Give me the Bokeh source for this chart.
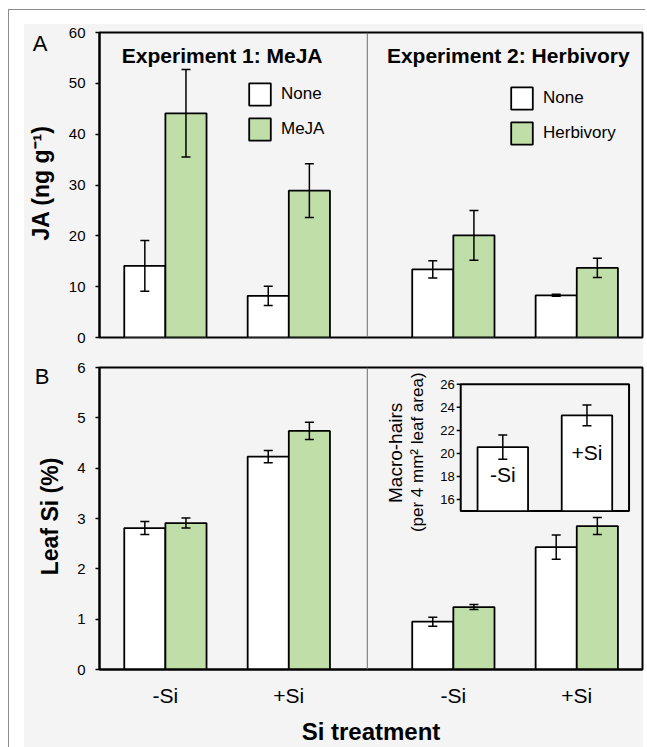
import math
from bokeh.plotting import figure
from bokeh.models import (Range1d, FixedTicker, Whisker, TeeHead, ColumnDataSource,
                          Legend, LegendItem, Span)
from bokeh.layouts import column, row
from bokeh.embed import file_html
from bokeh.resources import INLINE
from bokeh.core.properties import value

# ---------------- data ----------------
experiments = ["Experiment 1: MeJA", "Experiment 2: Herbivory"]
treatments = [["None", "MeJA"], ["None", "Herbivory"]]
si_labels = ["-Si", "+Si", "-Si", "+Si"]

ja_none = [14.1, 8.2, 13.4, 8.3]
ja_none_se = [5.0, 1.9, 1.7, 0.2]
ja_treat = [44.1, 28.9, 20.1, 13.7]
ja_treat_se = [8.6, 5.3, 4.9, 1.9]

si_none = [2.81, 4.23, 0.95, 2.43]
si_none_se = [0.13, 0.12, 0.09, 0.24]
si_treat = [2.91, 4.74, 1.24, 2.85]
si_treat_se = [0.10, 0.17, 0.05, 0.17]

hair_labels = ["-Si", "+Si"]
hairs = [20.55, 23.3]
hairs_se = [1.05, 0.9]

ja_ticks = [0, 10, 20, 30, 40, 50, 60]
si_ticks = [0, 1, 2, 3, 4, 5, 6]
hair_ticks = [16, 18, 20, 22, 24, 26]

# ---------------- style / layout ----------------
FONT = "Liberation Sans"
BG = "#f4f4f4"
GREEN = "#bfdea8"
STRIP = 64            # left strip holding the panel letter and the y title
W = 645 - STRIP
ML, MR = 99 - STRIP, 3
FRAME_W = W - ML - MR

EXP_GAP = 1 / 3
BAR_W = 1 / 3
X_START, X_END = -0.534, 3.866
DIVIDER = 1.636
group_x = [i + (EXP_GAP if i >= 2 else 0) for i in range(len(si_labels))]
x_none = [g - BAR_W / 2 for g in group_x]
x_treat = [g + BAR_W / 2 for g in group_x]


def base_fig(height, y_end, ticks, top, bottom, xaxis):
    p = figure(width=W, height=height, output_backend="svg", toolbar_location=None,
               x_range=Range1d(X_START, X_END), y_range=Range1d(0, y_end),
               min_border_left=ML, min_border_right=MR,
               min_border_top=top, min_border_bottom=bottom,
               x_axis_location=("below" if xaxis else None))
    p.background_fill_alpha = 0
    p.border_fill_alpha = 0
    p.outline_line_color = "black"
    p.outline_line_width = 2
    p.grid.visible = False
    ax = p.yaxis[0]
    ax.ticker = FixedTicker(ticks=ticks)
    ax.minor_tick_line_color = None
    ax.major_tick_in = 0
    ax.major_tick_out = 4
    ax.major_tick_line_width = 1.5
    ax.major_tick_line_color = "black"
    ax.axis_line_color = "black"
    ax.axis_line_width = 2
    ax.major_label_text_font = FONT
    ax.major_label_text_font_size = "15px"
    ax.major_label_text_color = "black"
    ax.major_label_standoff = 10
    return p


def strip_fig(height, y_end, top, bottom, letter, letter_x, letter_y,
              ytitle, title_x, title_y):
    """Narrow figure left of a panel; its frame is aligned with the panel's frame,
    so it shares the panel's vertical data scale."""
    s = figure(width=STRIP, height=height, output_backend="svg", toolbar_location=None,
               x_range=Range1d(0, STRIP), y_range=Range1d(0, y_end),
               min_border_left=0, min_border_right=0,
               min_border_top=top, min_border_bottom=bottom,
               x_axis_location=None, y_axis_location=None)
    s.background_fill_alpha = 0
    s.border_fill_alpha = 0
    s.outline_line_color = None
    s.grid.visible = False
    s.text(x=[letter_x], y=[letter_y], text=[letter], text_font=value(FONT),
           text_font_size="22px", text_align="center", text_baseline="middle",
           text_color="black")
    s.text(x=[title_x], y=[title_y], text=[ytitle], angle=math.pi / 2,
           text_font=value(FONT), text_font_style="bold", text_font_size="23px",
           text_align="center", text_baseline="middle", text_color="black")
    return s


def draw_bars(p, xs, tops, fill):
    src = ColumnDataSource(dict(x=xs, top=tops))
    return p.vbar(x="x", top="top", bottom=0, width=BAR_W, source=src,
                  fill_color=fill, line_color="black", line_width=1.8)


def draw_err(p, xs, means, ses, head=9, **kw):
    src = ColumnDataSource(dict(x=xs, lo=[m - s for m, s in zip(means, ses)],
                                hi=[m + s for m, s in zip(means, ses)]))
    w = Whisker(source=src, base="x", lower="lo", upper="hi", line_color="black",
                line_width=1.5, level="annotation",
                upper_head=TeeHead(size=head, line_width=1.5, line_color="black"),
                lower_head=TeeHead(size=head, line_width=1.5, line_color="black"), **kw)
    p.add_layout(w)


def panel_bars(p, none_vals, none_se, treat_vals, treat_se):
    rends = []
    for e in range(2):
        idx = [2 * e, 2 * e + 1]
        rn = draw_bars(p, [x_none[i] for i in idx], [none_vals[i] for i in idx], "white")
        rt = draw_bars(p, [x_treat[i] for i in idx], [treat_vals[i] for i in idx], GREEN)
        rends.append((rn, rt))
    draw_err(p, x_none, none_vals, none_se)
    draw_err(p, x_treat, treat_vals, treat_se)
    p.add_layout(Span(location=DIVIDER, dimension="height", line_color="#6e6e6e", line_width=1))
    return rends


# ---------------- Panel A ----------------
HA, TA, BA = 352, 32, 15
pA = base_fig(HA, 60, ja_ticks, TA, BA, False)
rendsA = panel_bars(pA, ja_none, ja_none_se, ja_treat, ja_treat_se)

title_x = [(group_x[0] + group_x[1]) / 2 - 0.04, (group_x[2] + group_x[3]) / 2 - 0.055]
pA.text(x=title_x, y=[55.5, 55.5], text=experiments, text_font=value(FONT),
        text_font_style="bold", text_font_size="21px", text_align="center",
        text_baseline="middle", text_color="black")

legend_locs = [(147, 194), (409, 190)]
for e in range(2):
    rn, rt = rendsA[e]
    lg = Legend(items=[LegendItem(label=treatments[e][0], renderers=[rn]),
                       LegendItem(label=treatments[e][1], renderers=[rt])],
                location=legend_locs[e], orientation="vertical",
                glyph_width=27, glyph_height=28, spacing=7, padding=0, margin=0,
                label_standoff=8, label_text_font=FONT, label_text_font_size="17px",
                label_text_color="black", border_line_alpha=0, background_fill_alpha=0)
    pA.add_layout(lg)

sA = strip_fig(HA, 60, TA, BA, "A", 39.5, 57.8, "JA (ng g⁻¹)", 40, 30.4)

# ---------------- Panel B ----------------
HB, TB, BB = 395, 15, 75
pB = base_fig(HB, 6, si_ticks, TB, BB, True)
panel_bars(pB, si_none, si_none_se, si_treat, si_treat_se)
xa = pB.xaxis[0]
xa.ticker = FixedTicker(ticks=group_x)
xa.major_label_overrides = {g: lab for g, lab in zip(group_x, si_labels)}
xa.major_tick_in = 0
xa.major_tick_out = 0
xa.minor_tick_line_color = None
xa.axis_line_color = "black"
xa.axis_line_width = 2
xa.major_label_text_font = FONT
xa.major_label_text_font_size = "21px"
xa.major_label_text_color = "black"
xa.major_label_standoff = 14
xa.axis_label = "Si treatment"
xa.axis_label_text_font = FONT
xa.axis_label_text_font_style = "bold"
xa.axis_label_text_font_size = "24px"
xa.axis_label_text_color = "black"
xa.axis_label_standoff = 8

sB = strip_fig(HB, 6, TB, BB, "B", 41.5, 5.83, "Leaf Si (%)", 49, 3.04)

# ---------------- Inset (macro-hairs) ----------------
INSET_X0, INSET_X1 = 2.393, 3.757     # inset box edges in main x units
INSET_Y0, INSET_Y1 = 3.148, 5.666     # inset box edges in main y units
IX0, IX1 = 0.0, 2.0
IY0, IY1 = 15.0, 26.0
ix_per = (IX1 - IX0) / (INSET_X1 - INSET_X0)
iy_per = (IY1 - IY0) / (INSET_Y1 - INSET_Y0)
ix_range = Range1d(IX0 - (INSET_X0 - X_START) * ix_per, IX1 + (X_END - INSET_X1) * ix_per)
iy_range = Range1d(IY0 - (INSET_Y0 - 0) * iy_per, IY1 + (6 - INSET_Y1) * iy_per)
pB.extra_x_ranges = {"ix": ix_range}
pB.extra_y_ranges = {"iy": iy_range}
px_per_ix = FRAME_W / (ix_range.end - ix_range.start)
ins = dict(x_range_name="ix", y_range_name="iy")

pB.quad(left=[IX0], right=[IX1], bottom=[IY0], top=[IY1], fill_color=BG,
        line_color="black", line_width=2, **ins)
hx = [IX0 + 0.5 + i for i in range(len(hairs))]
pB.vbar(x=hx, top=hairs, bottom=IY0, width=0.6, fill_color="white",
        line_color="black", line_width=1.8, **ins)
draw_err(pB, hx, hairs, hairs_se, head=9, **ins)
tick_len = 4 / px_per_ix
pB.segment(x0=[IX0 - tick_len] * len(hair_ticks), x1=[IX0] * len(hair_ticks),
           y0=hair_ticks, y1=hair_ticks, line_color="black", line_width=1.5, **ins)
pB.text(x=[IX0 - tick_len - 2 / px_per_ix] * len(hair_ticks), y=hair_ticks,
        text=[str(t) for t in hair_ticks], text_font=value(FONT), text_font_size="13px",
        text_align="right", text_baseline="middle", text_color="black", **ins)
pB.text(x=hx, y=[18.2, 20.1], text=hair_labels, text_font=value(FONT),
        text_font_size="21px", text_align="center", text_baseline="middle",
        text_color="black", **ins)
pB.text(x=[IX0 - 0.774], y=[20.05], text=["Macro-hairs"], angle=math.pi / 2,
        text_font=value(FONT), text_font_size="19px", text_align="center",
        text_baseline="middle", text_color="black", **ins)
pB.text(x=[IX0 - 0.512], y=[20.1], text=["(per 4 mm² leaf area)"], angle=math.pi / 2,
        text_font=value(FONT), text_font_size="17px", text_align="center",
        text_baseline="middle", text_color="black", **ins)

bg_css = ("linear-gradient(#8c8c8c,#8c8c8c) 8px 9px/1px 100% no-repeat, "
          "linear-gradient(#8c8c8c,#8c8c8c) 8px 9px/100% 1px no-repeat, "
          "linear-gradient(#f4f4f4,#f4f4f4) 24px 24px/619px 100% no-repeat, white")
layout = column(row(sA, pA), row(sB, pB), styles={"background": bg_css})

open("out.html", "w").write(file_html(layout, INLINE))
